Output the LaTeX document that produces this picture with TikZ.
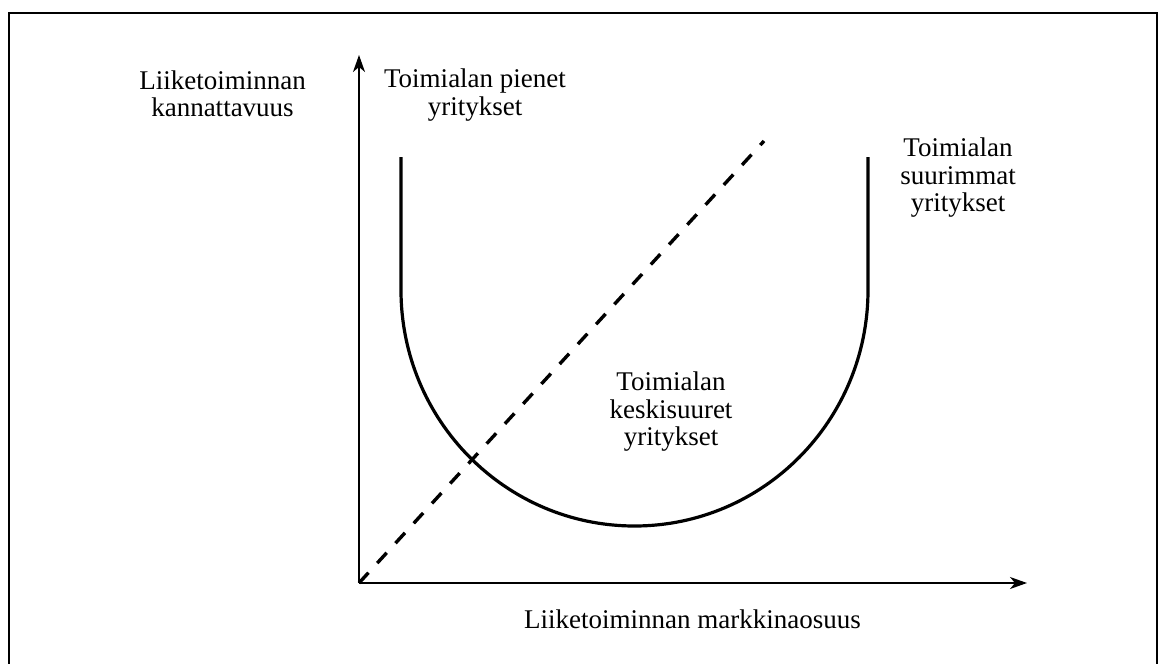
\documentclass[tikz,border=0pt]{standalone}
\usepackage{fontspec}
\setmainfont{Liberation Serif}
\usetikzlibrary{arrows.meta, positioning}

\begin{document}
\begin{tikzpicture}[
  x=1pt, y=-1pt,
  font=\fontsize{27}{27.5}\selectfont,
  axis/.style={-{Stealth[length=17pt, width=12pt, inset=5pt]}, line width=1.5pt},
  ucurve/.style={line width=3.2pt},
  trend/.style={line width=3.4pt, dash pattern=on 14pt off 13pt},
  frame/.style={line width=1.3pt},
  label/.style={align=center, inner sep=0pt}
]

\clip (0,0) rectangle (1160,664);

% =========================
% Frame
% =========================
\draw[frame] (9,664) -- (9,13) -- (1157,13) -- (1157,664);

% =========================
% Axes
% =========================
\coordinate (origin) at (359,583);
\coordinate (ytip) at (359,55);
\coordinate (xtip) at (1027,583);

\draw[axis] (origin) -- (ytip);
\draw[axis] (origin) -- (xtip);

\node[label] (ylabel) at (222.5,94) {Liiketoiminnan\\kannattavuus};
\node[label, anchor=base] (xlabel) at (692.5,628) {Liiketoiminnan markkinaosuus};

% =========================
% U-curve and dashed line
% =========================
\coordinate (uleft) at (401,157);
\coordinate (uright) at (868,157);
\coordinate (dashend) at (764,141);

\draw[ucurve] (uleft) -- (401,290)
  arc[start angle=180, end angle=360, x radius=233.5pt, y radius=236pt]
  -- (uright);
\draw[trend] (origin) -- (dashend);

% =========================
% Labels
% =========================
\node[label] (small) at (475,95) {Toimialan pienet\\yritykset};
\node[label] (large) at (958,178) {Toimialan\\suurimmat\\yritykset};
\node[label] (medium) at (671,412) {Toimialan\\keskisuuret\\yritykset};

\end{tikzpicture}
\end{document}
